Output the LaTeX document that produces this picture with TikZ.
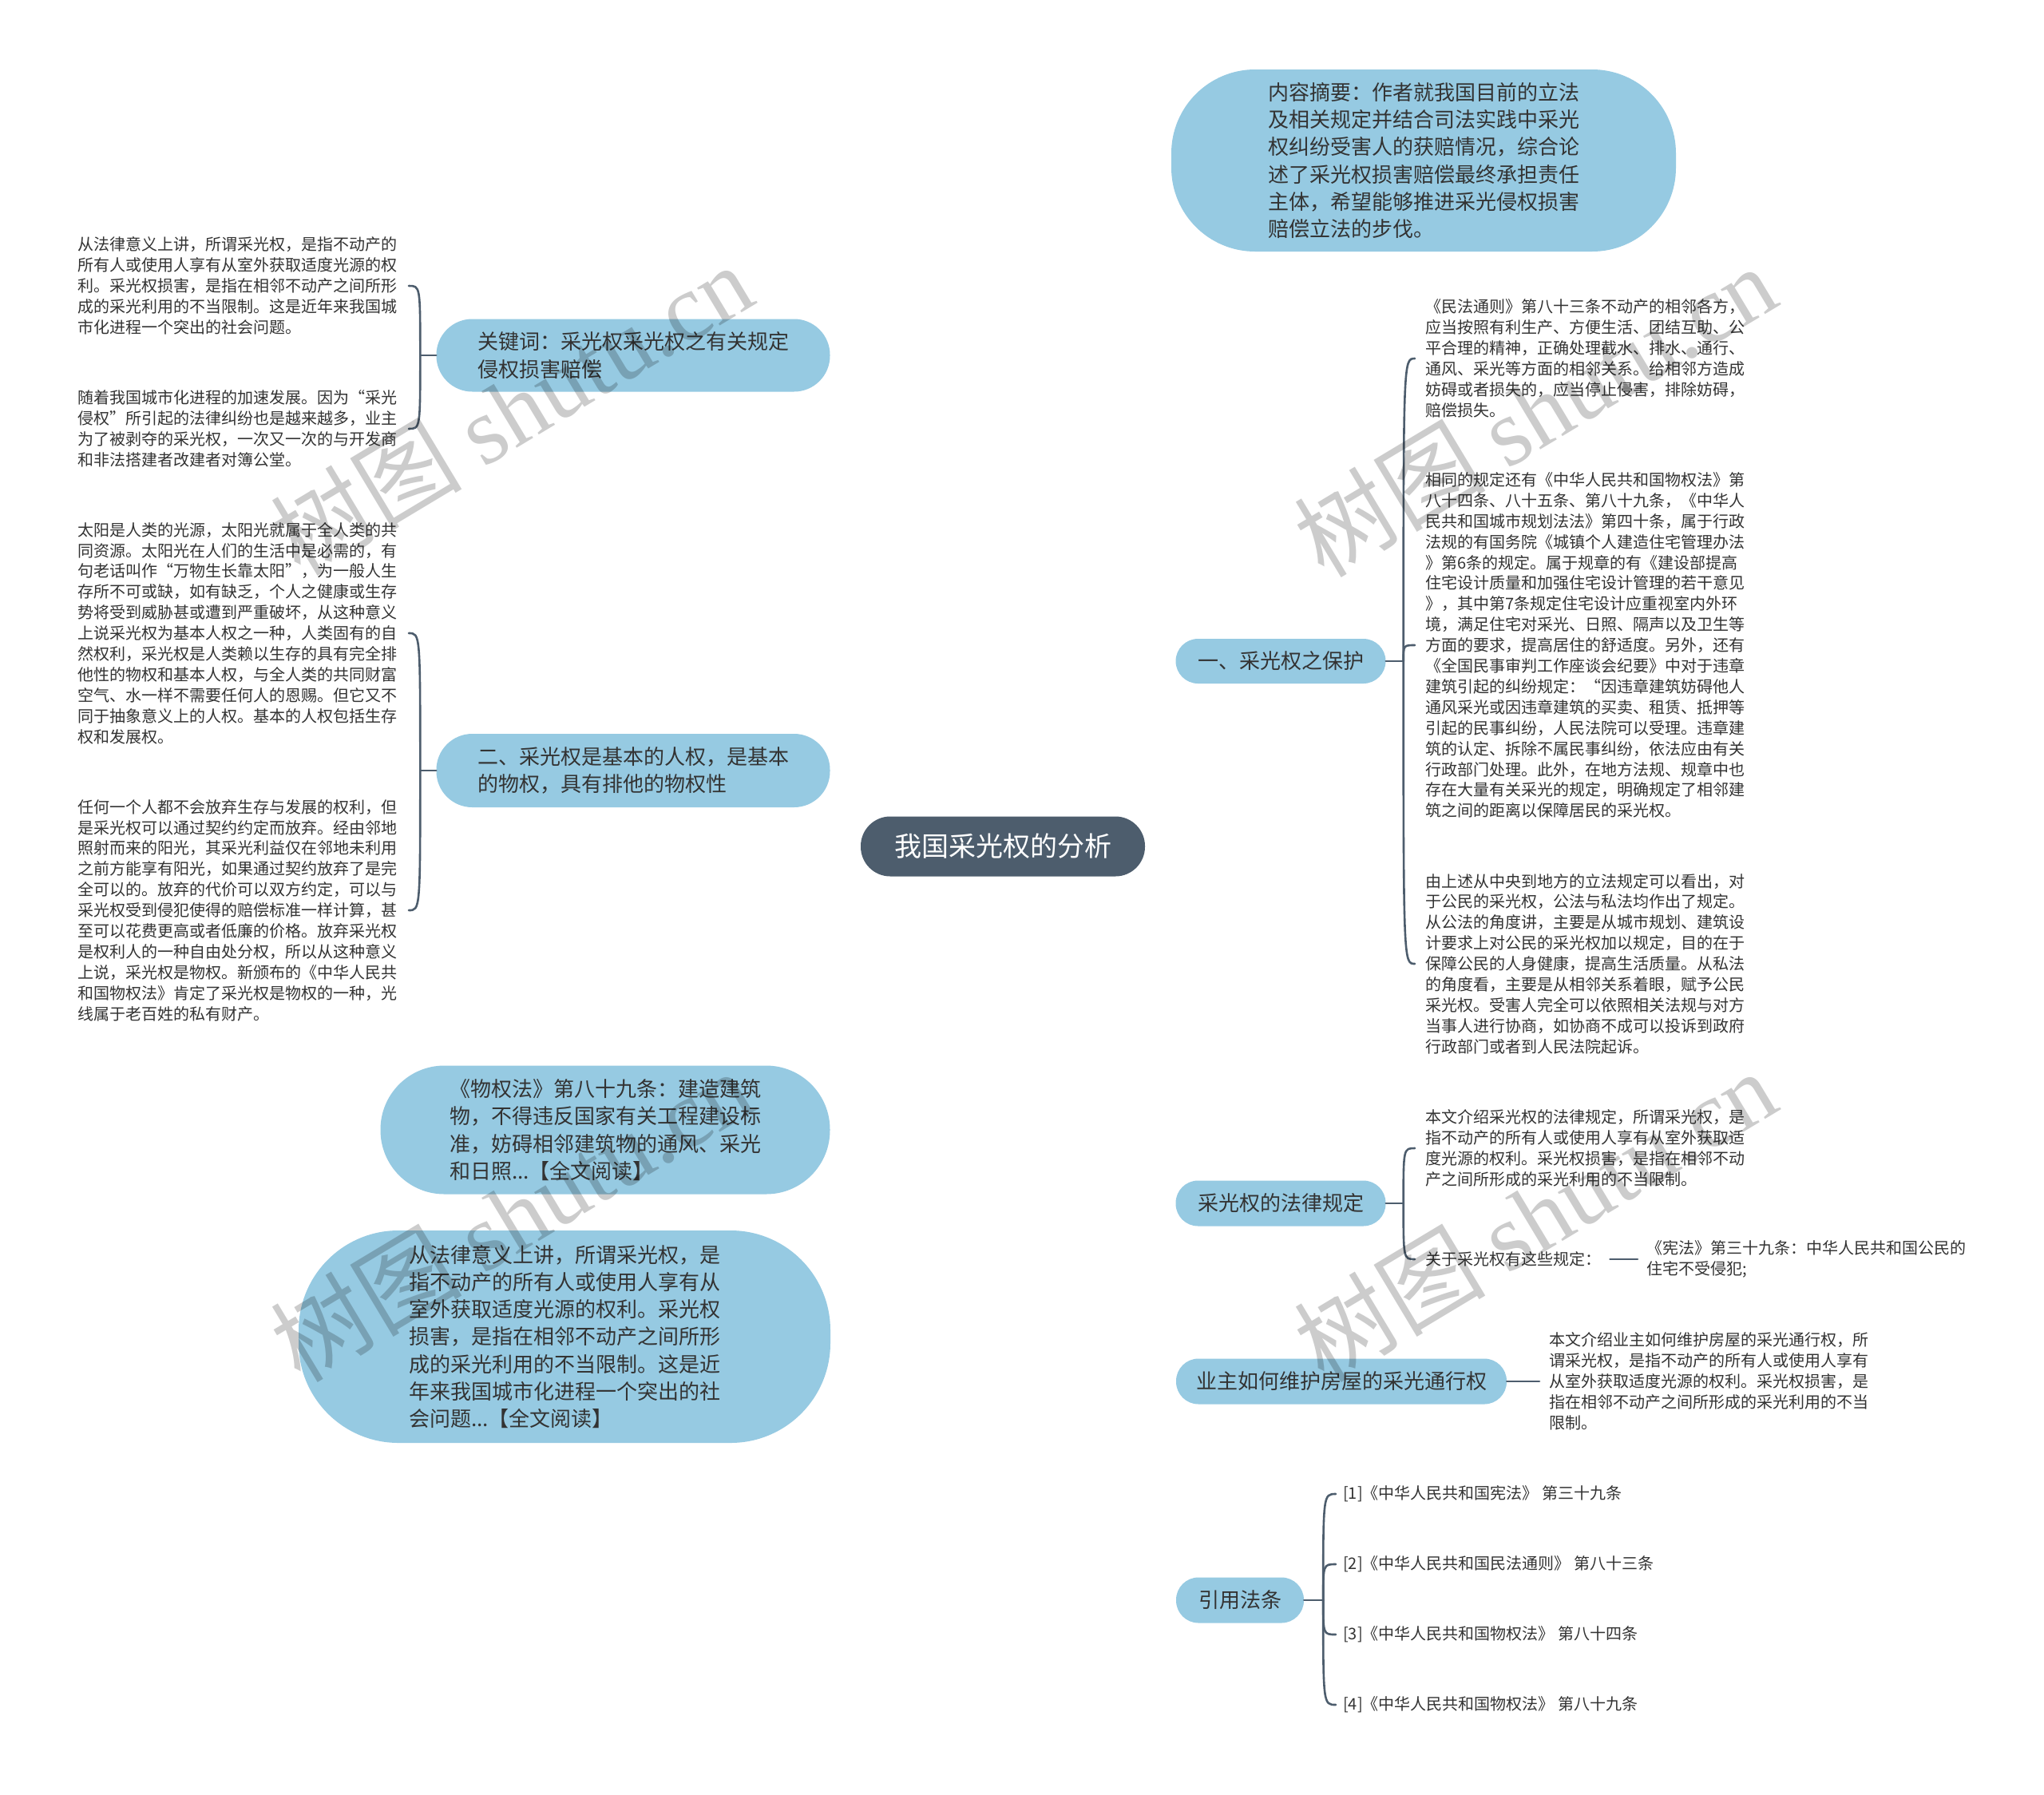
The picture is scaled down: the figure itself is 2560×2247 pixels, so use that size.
\documentclass[tikz,border=0pt]{standalone}
\usepackage{fontspec}
\setmainfont{Noto Sans CJK SC}
\newfontfamily\wmserif{Liberation Serif}
\usetikzlibrary{backgrounds,calc}
\definecolor{nodeblue}{HTML}{96CAE2}
\definecolor{rootfill}{HTML}{4D5D6D}
\definecolor{linecol}{HTML}{4D5D6D}
\definecolor{txt}{HTML}{333333}
\begin{document}
\begin{tikzpicture}[x=1pt,y=-1pt,
  rootnode/.style={fill=rootfill, rounded corners=37pt, minimum width=356pt, minimum height=75pt, text=white, font=\fontsize{34}{40}\selectfont, inner sep=0pt},
  branch/.style={fill=nodeblue, text=txt, font=\fontsize{26}{34.3}\selectfont, align=left, inner sep=0pt},
  leaf/.style={text=txt, font=\fontsize{20}{25.9}\selectfont, align=left, inner sep=0pt},
  conn/.style={draw=linecol, line width=3.2pt, line cap=round},
  bconn/.style={draw=linecol, line width=2.6pt, line cap=round},
  wmark/.style={text=black, opacity=0.2, rotate=31, font=\fontsize{120}{120}\selectfont, inner sep=0pt}
]
\useasboundingbox (0,0) rectangle (2560,2247);
\fill[white] (0,0) rectangle (2560,2247);

% ---------- main nodes ----------
\node[rootnode] (root) at (1256,1060) {我国采光权的分析};

\node[branch, minimum width=632pt, minimum height=228pt, rounded corners=105pt] (sum) at (1783,201)
 {内容摘要：作者就我国目前的立法\\及相关规定并结合司法实践中采光\\权纠纷受害人的获赔情况，综合论\\述了采光权损害赔偿最终承担责任\\主体，希望能够推进采光侵权损害\\赔偿立法的步伐。};
\node[branch, minimum width=263pt, minimum height=56pt, rounded corners=28pt] (prot) at (1604,828) {一、采光权之保护};
\node[branch, minimum width=263pt, minimum height=57pt, rounded corners=28pt] (law) at (1604,1507) {采光权的法律规定};
\node[branch, minimum width=414pt, minimum height=57pt, rounded corners=28pt] (owner) at (1680,1730) {业主如何维护房屋的采光通行权};
\node[branch, minimum width=160pt, minimum height=57pt, rounded corners=28pt] (cite) at (1553,2004) {引用法条};

\node[branch, minimum width=493pt, minimum height=91pt, rounded corners=45pt] (kw) at (793,445)
 {关键词：采光权采光权之有关规定\\侵权损害赔偿};
\node[branch, minimum width=493pt, minimum height=92pt, rounded corners=45pt] (two) at (793,965)
 {二、采光权是基本的人权，是基本\\的物权，具有排他的物权性};
\node[branch, minimum width=563pt, minimum height=161pt, rounded corners=80pt] (wq) at (758,1415)
 {《物权法》第八十九条：建造建筑\\物，不得违反国家有关工程建设标\\准，妨碍相邻建筑物的通风、采光\\和日照...【全文阅读】};
\node[branch, minimum width=666pt, minimum height=266pt, rounded corners=125pt] (cfl) at (707,1674)
 {从法律意义上讲，所谓采光权，是\\指不动产的所有人或使用人享有从\\室外获取适度光源的权利。采光权\\损害，是指在相邻不动产之间所形\\成的采光利用的不当限制。这是近\\年来我国城市化进程一个突出的社\\会问题...【全文阅读】};

% ---------- leaves (left) ----------
\node[leaf, anchor=east] (a1) at (498,358)
 {从法律意义上讲，所谓采光权，是指不动产的\\所有人或使用人享有从室外获取适度光源的权\\利。采光权损害，是指在相邻不动产之间所形\\成的采光利用的不当限制。这是近年来我国城\\市化进程一个突出的社会问题。};
\node[leaf, anchor=east] (a2) at (498,537)
 {随着我国城市化进程的加速发展。因为“采光\\侵权”所引起的法律纠纷也是越来越多，业主\\为了被剥夺的采光权，一次又一次的与开发商\\和非法搭建者改建者对簿公堂。};
\node[leaf, anchor=east] (b1) at (498,793)
 {太阳是人类的光源，太阳光就属于全人类的共\\同资源。太阳光在人们的生活中是必需的，有\\句老话叫作“万物生长靠太阳”，为一般人生\\存所不可或缺，如有缺乏，个人之健康或生存\\势将受到威胁甚或遭到严重破坏，从这种意义\\上说采光权为基本人权之一种，人类固有的自\\然权利，采光权是人类赖以生存的具有完全排\\他性的物权和基本人权，与全人类的共同财富\\空气、水一样不需要任何人的恩赐。但它又不\\同于抽象意义上的人权。基本的人权包括生存\\权和发展权。};
\node[leaf, anchor=east] (b2) at (498,1140)
 {任何一个人都不会放弃生存与发展的权利，但\\是采光权可以通过契约约定而放弃。经由邻地\\照射而来的阳光，其采光利益仅在邻地未利用\\之前方能享有阳光，如果通过契约放弃了是完\\全可以的。放弃的代价可以双方约定，可以与\\采光权受到侵犯使得的赔偿标准一样计算，甚\\至可以花费更高或者低廉的价格。放弃采光权\\是权利人的一种自由处分权，所以从这种意义\\上说，采光权是物权。新颁布的《中华人民共\\和国物权法》肯定了采光权是物权的一种，光\\线属于老百姓的私有财产。};

% ---------- leaves (right) ----------
\node[leaf, anchor=west] (c1) at (1785,449)
 {《民法通则》第八十三条不动产的相邻各方，\\应当按照有利生产、方便生活、团结互助、公\\平合理的精神，正确处理截水、排水、通行、\\通风、采光等方面的相邻关系。给相邻方造成\\妨碍或者损失的，应当停止侵害，排除妨碍，\\赔偿损失。};
\node[leaf, anchor=west] (c2) at (1785,808)
 {相同的规定还有《中华人民共和国物权法》第\\八十四条、八十五条、第八十九条，《中华人\\民共和国城市规划法法》第四十条，属于行政\\法规的有国务院《城镇个人建造住宅管理办法\\》第6条的规定。属于规章的有《建设部提高\\住宅设计质量和加强住宅设计管理的若干意见\\》，其中第7条规定住宅设计应重视室内外环\\境，满足住宅对采光、日照、隔声以及卫生等\\方面的要求，提高居住的舒适度。另外，还有\\《全国民事审判工作座谈会纪要》中对于违章\\建筑引起的纠纷规定：“因违章建筑妨碍他人\\通风采光或因违章建筑的买卖、租赁、抵押等\\引起的民事纠纷，人民法院可以受理。违章建\\筑的认定、拆除不属民事纠纷，依法应由有关\\行政部门处理。此外，在地方法规、规章中也\\存在大量有关采光的规定，明确规定了相邻建\\筑之间的距离以保障居民的采光权。};
\node[leaf, anchor=west] (c3) at (1785,1207)
 {由上述从中央到地方的立法规定可以看出，对\\于公民的采光权，公法与私法均作出了规定。\\从公法的角度讲，主要是从城市规划、建筑设\\计要求上对公民的采光权加以规定，目的在于\\保障公民的人身健康，提高生活质量。从私法\\的角度看，主要是从相邻关系着眼，赋予公民\\采光权。受害人完全可以依照相关法规与对方\\当事人进行协商，如协商不成可以投诉到政府\\行政部门或者到人民法院起诉。};
\node[leaf, anchor=west] (d1) at (1785,1438)
 {本文介绍采光权的法律规定，所谓采光权，是\\指不动产的所有人或使用人享有从室外获取适\\度光源的权利。采光权损害，是指在相邻不动\\产之间所形成的采光利用的不当限制。};
\node[leaf, anchor=west] (d2) at (1785,1577) {关于采光权有这些规定：};
\node[leaf, anchor=west] (d3) at (2062,1577) {《宪法》第三十九条：中华人民共和国公民的\\住宅不受侵犯;};
\node[leaf, anchor=west] (e1) at (1940,1730)
 {本文介绍业主如何维护房屋的采光通行权，所\\谓采光权，是指不动产的所有人或使用人享有\\从室外获取适度光源的权利。采光权损害，是\\指在相邻不动产之间所形成的采光利用的不当\\限制。};
\node[leaf, anchor=west] (f1) at (1682,1871) {[1]《中华人民共和国宪法》 第三十九条};
\node[leaf, anchor=west] (f2) at (1682,1959) {[2]《中华人民共和国民法通则》 第八十三条};
\node[leaf, anchor=west] (f3) at (1682,2047) {[3]《中华人民共和国物权法》 第八十四条};
\node[leaf, anchor=west] (f4) at (1682,2135) {[4]《中华人民共和国物权法》 第八十九条};

% ---------- connectors ----------
\begin{pgfonlayer}{background}
\foreach \n/\a in {sum/west, prot/west, law/west, owner/west, cite/west, kw/east, two/east, wq/east, cfl/east}
  \draw[conn] (root.center) .. controls (root.center |- \n.\a) and ($(root.center |- \n.\a)!0.3!(\n.\a)$) .. (\n.\a);
\end{pgfonlayer}

% brackets left
\coordinate (kwS) at ([xshift=-20pt]kw.west);
\draw[bconn] (kw.west) -- (kwS);
\foreach \c in {a1,a2}
  \draw[bconn] (kwS) .. controls (kwS |- \c.east) .. ([xshift=14pt]\c.east);
\coordinate (twoS) at ([xshift=-20pt]two.west);
\draw[bconn] (two.west) -- (twoS);
\foreach \c in {b1,b2}
  \draw[bconn] (twoS) .. controls (twoS |- \c.east) .. ([xshift=14pt]\c.east);

% brackets right
\coordinate (protS) at ([xshift=22pt]prot.east);
\draw[bconn] (prot.east) -- (protS);
\foreach \c in {c1,c2,c3}
  \draw[bconn] (protS) .. controls (protS |- \c.west) .. ([xshift=-13pt]\c.west);
\coordinate (lawS) at ([xshift=22pt]law.east);
\draw[bconn] (law.east) -- (lawS);
\foreach \c in {d1,d2}
  \draw[bconn] (lawS) .. controls (lawS |- \c.west) .. ([xshift=-13pt]\c.west);
\draw[bconn] ([xshift=11pt]d2.east) -- ([xshift=-11pt]d3.west);
\draw[bconn] (owner.east) -- ([xshift=-12pt]e1.west);
\coordinate (citeS) at ([xshift=24pt]cite.east);
\draw[bconn] (cite.east) -- (citeS);
\foreach \c in {f1,f2,f3,f4}
  \draw[bconn] (citeS) .. controls (citeS |- \c.west) .. ([xshift=-9pt]\c.west);

% ---------- watermarks ----------
\node[wmark] (w1) at (640,512) {树图 {\wmserif shutu.cn}};
\node[wmark] (w2) at (1922,514) {树图 {\wmserif shutu.cn}};
\node[wmark] (w3) at (640,1522) {树图 {\wmserif shutu.cn}};
\node[wmark] (w4) at (1922,1522) {树图 {\wmserif shutu.cn}};
\end{tikzpicture}
\end{document}
